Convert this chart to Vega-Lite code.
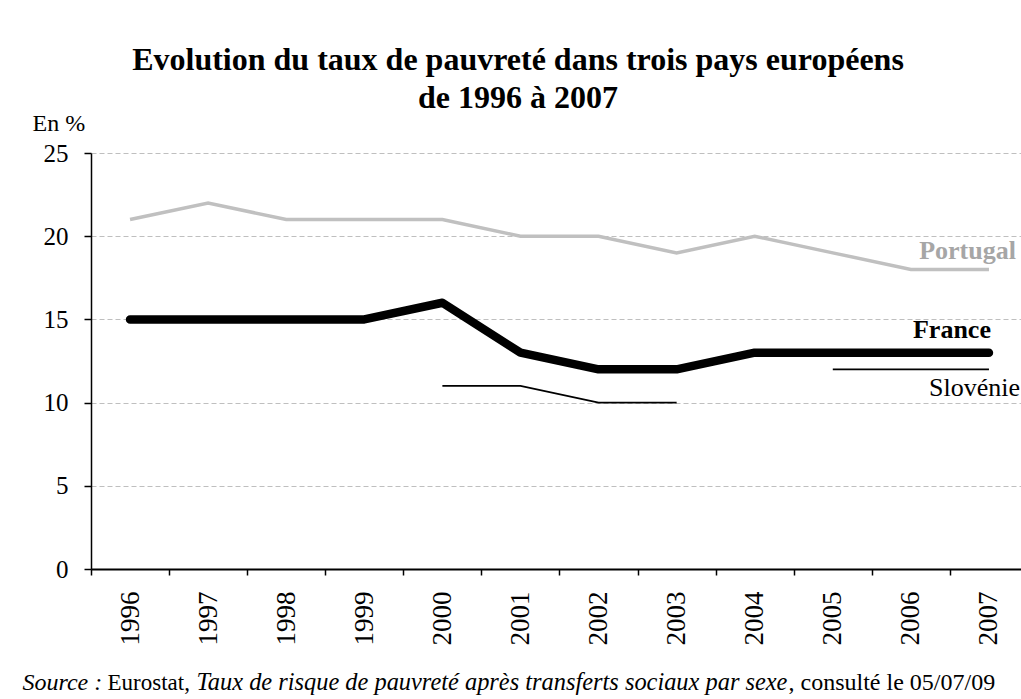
{
  "$schema": "https://vega.github.io/schema/vega-lite/v6.json",
  "autosize": {"type": "none"},
  "padding": {"left": 91, "top": 153, "right": 0, "bottom": 130},
  "width": 930,
  "height": 416,
  "background": "white",
  "title": {
    "text": ["Evolution du taux de pauvreté dans trois pays européens", "de 1996 à 2007"],
    "font": "Liberation Serif",
    "fontSize": 32,
    "fontWeight": "bold",
    "color": "black",
    "anchor": "middle",
    "frame": "group",
    "dx": -38,
    "dy": 4,
    "lineHeight": 38,
    "offset": 0
  },
  "config": {
    "font": "Liberation Serif",
    "view": {"stroke": null},
    "axis": {
      "labelFont": "Liberation Serif",
      "titleFont": "Liberation Serif",
      "labelColor": "black",
      "titleColor": "black",
      "titleFontWeight": "normal",
      "domainColor": "black",
      "tickColor": "black"
    }
  },
  "datasets": {
    "portugal": [
      {"year": "1996", "pays": "Portugal", "value": 21},
      {"year": "1997", "pays": "Portugal", "value": 22},
      {"year": "1998", "pays": "Portugal", "value": 21},
      {"year": "1999", "pays": "Portugal", "value": 21},
      {"year": "2000", "pays": "Portugal", "value": 21},
      {"year": "2001", "pays": "Portugal", "value": 20},
      {"year": "2002", "pays": "Portugal", "value": 20},
      {"year": "2003", "pays": "Portugal", "value": 19},
      {"year": "2004", "pays": "Portugal", "value": 20},
      {"year": "2005", "pays": "Portugal", "value": 19},
      {"year": "2006", "pays": "Portugal", "value": 18},
      {"year": "2007", "pays": "Portugal", "value": 18}
    ],
    "france": [
      {"year": "1996", "pays": "France", "value": 15},
      {"year": "1997", "pays": "France", "value": 15},
      {"year": "1998", "pays": "France", "value": 15},
      {"year": "1999", "pays": "France", "value": 15},
      {"year": "2000", "pays": "France", "value": 16},
      {"year": "2001", "pays": "France", "value": 13},
      {"year": "2002", "pays": "France", "value": 12},
      {"year": "2003", "pays": "France", "value": 12},
      {"year": "2004", "pays": "France", "value": 13},
      {"year": "2005", "pays": "France", "value": 13},
      {"year": "2006", "pays": "France", "value": 13},
      {"year": "2007", "pays": "France", "value": 13}
    ],
    "slovenie": [
      {"year": "2000", "pays": "Slovénie", "value": 11, "seg": "a"},
      {"year": "2001", "pays": "Slovénie", "value": 11, "seg": "a"},
      {"year": "2002", "pays": "Slovénie", "value": 10, "seg": "a"},
      {"year": "2003", "pays": "Slovénie", "value": 10, "seg": "a"},
      {"year": "2005", "pays": "Slovénie", "value": 12, "seg": "b"},
      {"year": "2006", "pays": "Slovénie", "value": 12, "seg": "b"},
      {"year": "2007", "pays": "Slovénie", "value": 12, "seg": "b"}
    ]
  },
  "resolve": {"axis": {"x": "independent", "y": "independent"}},
  "layer": [
    {
      "data": {"name": "portugal"},
      "mark": {"type": "line", "color": "#c0c0c0", "strokeWidth": 3.5},
      "encoding": {
        "x": {
          "field": "year", "type": "ordinal",
          "sort": ["1996","1997","1998","1999","2000","2001","2002","2003","2004","2005","2006","2007"],
          "scale": {"type": "band", "paddingInner": 0, "paddingOuter": 0, "range": [0, 937],
                    "domain": ["1996","1997","1998","1999","2000","2001","2002","2003","2004","2005","2006","2007"]},
          "axis": {
            "orient": "bottom",
            "labelAngle": -90,
            "labelFontSize": 27,
            "labelPadding": 16,
            "tickSize": 6,
            "tickWidth": 1.5,
            "tickBand": "extent",
            "domainWidth": 2,
            "grid": false,
            "title": "Source :",
            "titleFontStyle": "italic",
            "titleFontSize": 24,
            "titleX": -69,
            "titleY": 120,
            "titleAlign": "left",
            "titleBaseline": "alphabetic",
            "titleAngle": 0
          }
        },
        "y": {
          "field": "value", "type": "quantitative",
          "scale": {"domain": [0, 25], "nice": false},
          "axis": {
            "orient": "left",
            "values": [0, 5, 10, 15, 20, 25],
            "labelFontSize": 25,
            "labelPadding": 16,
            "tickSize": 7,
            "tickWidth": 1.5,
            "domainWidth": 1.5,
            "grid": true,
            "gridColor": "#bfbfbf",
            "gridDash": [5, 3],
            "gridWidth": 1,
            "title": "En %",
            "titleFontSize": 24,
            "titleAngle": 0,
            "titleAlign": "left",
            "titleBaseline": "alphabetic",
            "titleX": -59,
            "titleY": -23
          }
        }
      }
    },
    {
      "data": {"name": "slovenie"},
      "mark": {"type": "line", "color": "black", "strokeWidth": 1.8},
      "encoding": {
        "x": {
          "field": "year", "type": "ordinal",
          "axis": {
            "orient": "top", "domain": false, "ticks": false, "labels": false, "grid": false,
            "title": "Eurostat,",
            "titleFontSize": 23,
            "titleX": 16,
            "titleY": 536,
            "titleAlign": "left",
            "titleBaseline": "alphabetic",
            "titleAngle": 0
          }
        },
        "y": {
          "field": "value", "type": "quantitative",
          "axis": {
            "orient": "right", "domain": false, "ticks": false, "labels": false, "grid": false,
            "title": "Taux de risque de pauvreté après transferts sociaux par sexe",
            "titleFontStyle": "italic",
            "titleFontSize": 24.4,
            "titleX": -825,
            "titleY": 536,
            "titleAlign": "left",
            "titleBaseline": "alphabetic",
            "titleAngle": 0
          }
        },
        "detail": {"field": "seg", "type": "nominal"}
      }
    },
    {
      "data": {"name": "france"},
      "mark": {"type": "line", "color": "black", "strokeWidth": 8.5, "strokeCap": "round", "strokeJoin": "round"},
      "encoding": {
        "x": {
          "field": "year", "type": "ordinal",
          "axis": {
            "orient": "bottom", "domain": false, "ticks": false, "labels": false, "grid": false,
            "title": ", consulté le 05/07/09",
            "titleFontSize": 24,
            "titleX": 697,
            "titleY": 120,
            "titleAlign": "left",
            "titleBaseline": "alphabetic",
            "titleAngle": 0
          }
        },
        "y": {"field": "value", "type": "quantitative", "axis": null}
      }
    },
    {
      "data": {"name": "portugal"},
      "transform": [{"filter": "datum.year === '2007'"}],
      "mark": {"type": "text", "align": "right", "baseline": "alphabetic", "dx": 27, "dy": -10,
               "fontSize": 26, "fontWeight": "bold", "color": "#a6a6a6", "font": "Liberation Serif"},
      "encoding": {
        "x": {"field": "year", "type": "ordinal", "axis": null},
        "y": {"field": "value", "type": "quantitative", "axis": null},
        "text": {"field": "pays"}
      }
    },
    {
      "data": {"name": "france"},
      "transform": [{"filter": "datum.year === '2007'"}],
      "mark": {"type": "text", "align": "right", "baseline": "alphabetic", "dx": 2, "dy": -15,
               "fontSize": 26, "fontWeight": "bold", "color": "black", "font": "Liberation Serif"},
      "encoding": {
        "x": {"field": "year", "type": "ordinal", "axis": null},
        "y": {"field": "value", "type": "quantitative", "axis": null},
        "text": {"field": "pays"}
      }
    },
    {
      "data": {"name": "slovenie"},
      "transform": [{"filter": "datum.year === '2007'"}],
      "mark": {"type": "text", "align": "right", "baseline": "alphabetic", "dx": 31, "dy": 27,
               "fontSize": 26, "fontWeight": "normal", "color": "black", "font": "Liberation Serif"},
      "encoding": {
        "x": {"field": "year", "type": "ordinal", "axis": null},
        "y": {"field": "value", "type": "quantitative", "axis": null},
        "text": {"field": "pays"}
      }
    }
  ]
}
